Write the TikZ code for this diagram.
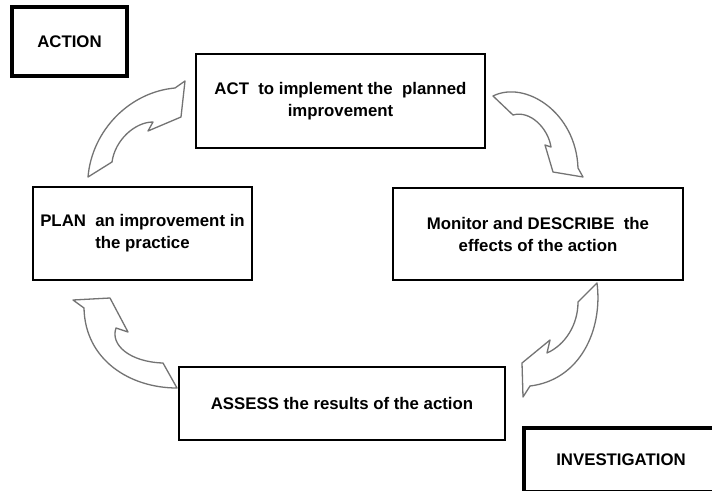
\documentclass[tikz,border=0pt]{standalone}
\usepackage{fontspec}
\setmainfont{Liberation Sans}
\begin{document}
\begin{tikzpicture}[x=1pt,y=-1pt,
  box/.style={draw=black, line width=2.4pt, fill=white, align=center,
    inner sep=0pt, font=\bfseries\fontsize{16.8}{22}\selectfont},
  tag/.style={box, line width=3.8pt},
  cyclearrow/.style={draw=black!55, line width=1.3pt, fill=white, line join=round}]
\clip (0,0) rectangle (712,490);
\fill[white] (0,0) rectangle (712,490);

% stage boxes
\node[tag, minimum width=115pt, minimum height=69pt] (action) at (69.5,41.5) {ACTION};
\node[box, minimum width=289pt, minimum height=94pt] (act) at (340.5,101)
  {ACT \ to implement the \ planned\\improvement};
\node[box, minimum width=290pt, minimum height=92pt] (monitor) at (538,234)
  {Monitor and DESCRIBE \ the\\effects of the action};
\node[box, minimum width=219pt, minimum height=93pt] (plan) at (142.5,233.5)
  {PLAN \ an improvement in\\the practice};
\node[box, minimum width=326pt, minimum height=73pt] (assess) at (342,403.5)
  {ASSESS the results of the action};
\node[tag, minimum width=194pt, minimum height=64pt] (invest) at (621,460) {INVESTIGATION};

% curved block arrows around the cycle
\draw[cyclearrow] (88,177) .. controls (92,130) and (130,92) .. (175,88)
  -- (185,81) -- (181,117) -- (148,131) -- (153,122)
  .. controls (135,122) and (115,140) .. (112,162) -- cycle;
\draw[cyclearrow] (493,96) .. controls (525,80) and (576,112) .. (578,168)
  -- (583,177) -- (553,172) -- (545,145) -- (551,147)
  .. controls (548,128) and (530,110) .. (513,115) -- cycle;
\draw[cyclearrow] (597,283) .. controls (603,330) and (580,380) .. (530,386)
  -- (523,397) -- (522,363) -- (550,340) -- (547,353)
  .. controls (565,345) and (578,325) .. (578,302) -- cycle;
\draw[cyclearrow] (177,388) .. controls (130,388) and (85,360) .. (84,308)
  -- (73,300) -- (110,298) -- (128,332) -- (116,328)
  .. controls (110,345) and (130,362) .. (163,363) -- cycle;
\end{tikzpicture}
\end{document}
